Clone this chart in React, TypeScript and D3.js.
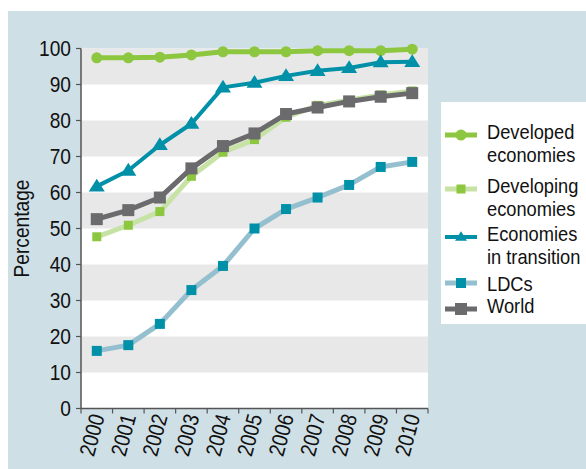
import React from 'react';
import * as d3 from 'd3';

const years = ['2000', '2001', '2002', '2003', '2004', '2005', '2006', '2007', '2008', '2009', '2010'];
const yTicks = [0, 10, 20, 30, 40, 50, 60, 70, 80, 90, 100];

const developed = [97.4, 97.4, 97.6, 98.2, 99.1, 99.1, 99.1, 99.4, 99.4, 99.4, 99.8];
const developing = [47.7, 50.9, 54.7, 64.5, 71.2, 74.7, 80.9, 84.2, 85.6, 87.1, 88.2];
const transition = [61.7, 66.1, 73.2, 79.1, 89.2, 90.5, 92.4, 93.8, 94.6, 96.2, 96.3];
const ldcs = [16.0, 17.6, 23.5, 32.9, 39.6, 50.0, 55.4, 58.6, 62.1, 67.1, 68.5];
const world = [52.6, 55.1, 58.6, 66.7, 72.9, 76.4, 81.8, 83.6, 85.3, 86.6, 87.6];

const W = 586;
const H = 469;
const FONT = "'Liberation Sans', Arial, sans-serif";
const SQUEEZE = 0.87; // the original uses a condensed face

type Marker = 'circle' | 'square' | 'triangle';
interface Series {
  name: string[];
  values: number[];
  line: string;
  lineWidth: number;
  fill: string;
  marker: Marker;
  size: number;
}

const series: Series[] = [
  { name: ['Developed', 'economies'], values: developed, line: '#8dc63f', lineWidth: 5, fill: '#8dc63f', marker: 'circle', size: 5.5 },
  { name: ['Developing', 'economies'], values: developing, line: '#c6e2a4', lineWidth: 5, fill: '#8dc63f', marker: 'square', size: 4.5 },
  { name: ['Economies', 'in transition'], values: transition, line: '#0090a8', lineWidth: 4, fill: '#0090a8', marker: 'triangle', size: 8 },
  { name: ['LDCs'], values: ldcs, line: '#93bfce', lineWidth: 5, fill: '#0090a8', marker: 'square', size: 5 },
  { name: ['World'], values: world, line: '#6b6b6d', lineWidth: 5, fill: '#6b6b6d', marker: 'square', size: 6 },
];

function MarkerShape({ kind, x, y, r, fill }: { kind: Marker; x: number; y: number; r: number; fill: string }) {
  if (kind === 'circle') return <circle cx={x} cy={y} r={r} fill={fill} />;
  if (kind === 'square') return <rect x={x - r} y={y - r} width={r * 2} height={r * 2} fill={fill} />;
  const h = r * 1.6;
  return <path d={`M${x},${y - h * 0.6}L${x + r},${y + h * 0.4}L${x - r},${y + h * 0.4}Z`} fill={fill} />;
}

export default function App() {
  const x = d3.scaleBand<string>().domain(years).range([81, 428]);
  const y = d3.scaleLinear().domain([0, 100]).range([408.5, 48.5]);
  const cx = (yr: string) => (x(yr) ?? 0) + x.bandwidth() / 2;

  const line = (vals: number[]) =>
    d3.line<number>().x((_, i) => cx(years[i])).y(d => y(d))(vals) ?? '';

  const bands = yTicks.slice(0, -1).filter((_, i) => i % 2 === 1);

  // legend rows
  const legendRows = [131, 185, 233, 283, 305];
  const markerRows = [135, 189, 237, 283, 309];

  return (
    <svg width={W} height={H} style={{ position: 'absolute', left: 0, top: 0 }} fontFamily={FONT}>
      <rect x={8} y={11} width={W - 8} height={H - 11} fill="#cfdfe6" />
      {/* plot background */}
      <rect x={81} y={y(100)} width={347} height={y(0) - y(100)} fill="#ffffff" />
      {bands.map(t => (
        <rect key={t} x={81} y={y(t + 10)} width={347} height={y(t) - y(t + 10)} fill="#e8e8e8" />
      ))}

      {/* y axis */}
      <line x1={81} x2={81} y1={y(100)} y2={y(0)} stroke="#555" strokeWidth={1.5} />
      {yTicks.map(t => (
        <g key={t}>
          <line x1={76} x2={81} y1={y(t)} y2={y(t)} stroke="#555" strokeWidth={1.2} />
          <text transform={`translate(71,${y(t)}) scale(${SQUEEZE},1)`} dy="0.36em" textAnchor="end" fontSize={22} fill="#111">{t}</text>
        </g>
      ))}
      <text transform={`translate(29,${(y(0) + y(100)) / 2}) rotate(-90) scale(${SQUEEZE},1)`} textAnchor="middle" fontSize={22} fill="#111">Percentage</text>

      {/* x axis */}
      <line x1={81} x2={428} y1={y(0)} y2={y(0)} stroke="#555" strokeWidth={1.5} />
      {years.map(yr => (
        <line key={yr} x1={(x(yr) ?? 0) + x.bandwidth()} x2={(x(yr) ?? 0) + x.bandwidth()} y1={y(0)} y2={y(0) + 5} stroke="#555" strokeWidth={1.2} />
      ))}
      <line x1={81} x2={81} y1={y(0)} y2={y(0) + 5} stroke="#555" strokeWidth={1.2} />
      {years.map(yr => (
        <text key={yr} transform={`translate(${cx(yr) + 8},${y(0) + 8}) rotate(-75) scale(${SQUEEZE},1)`} textAnchor="end" fontSize={22} fill="#111">{yr}</text>
      ))}

      {/* series */}
      {series.map(s => (
        <g key={s.name.join(' ')}>
          <path d={line(s.values)} fill="none" stroke={s.line} strokeWidth={s.lineWidth} strokeLinejoin="round" />
          {s.values.map((v, i) => (
            <MarkerShape key={i} kind={s.marker} x={cx(years[i])} y={y(v)} r={s.size} fill={s.fill} />
          ))}
        </g>
      ))}

      {/* legend */}
      <rect x={441} y={102} width={145} height={222} fill="#ffffff" />
      {series.map((s, i) => (
        <g key={s.name.join(' ')}>
          <line x1={445} x2={477} y1={markerRows[i]} y2={markerRows[i]} stroke={s.line} strokeWidth={s.lineWidth} />
          <MarkerShape kind={s.marker} x={461} y={markerRows[i]} r={s.marker === 'triangle' ? 6 : s.size} fill={s.fill} />
          <text transform={`translate(487,${legendRows[i]}) scale(${SQUEEZE},1)`} fontSize={21} fill="#111">
            {s.name.map((n, j) => (
              <tspan key={j} x={0} dy={j === 0 ? '0.36em' : '1.1em'}>{n}</tspan>
            ))}
          </text>
        </g>
      ))}
    </svg>
  );
}
